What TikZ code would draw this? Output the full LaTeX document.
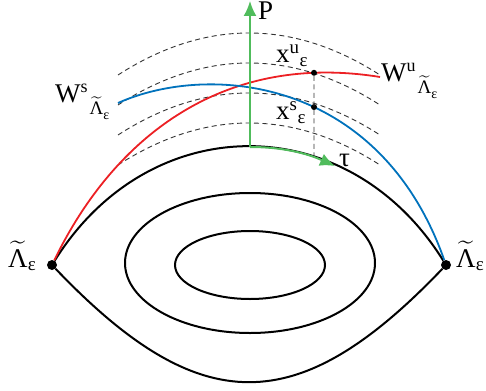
\documentclass[tikz,border=0pt]{standalone}
\usepackage{amsmath}
\usepackage{amssymb}
\usepackage{fontspec}
\setmainfont{Liberation Serif}
\usetikzlibrary{arrows.meta, intersections}
\definecolor{sepgreen}{RGB}{80,188,92}
\definecolor{mfred}{RGB}{236,32,36}
\definecolor{mfblue}{RGB}{0,114,188}
\tikzset{
    orbit/.style={draw=black, line width=2pt},
    levelset/.style={draw=black!80, line width=0.9pt, dash pattern=on 5pt off 3.5pt},
    unstable/.style={draw=mfred, line width=1.8pt},
    stable/.style={draw=mfblue, line width=1.8pt},
    flowarrow/.style={draw=sepgreen, line width=2pt, -{Latex[length=15pt,width=13pt]}},
    dot/.style={circle, fill=black, inner sep=0pt, minimum size=10pt},
    smalldot/.style={circle, fill=black, inner sep=0pt, minimum size=6pt},
    lbl/.style={inner sep=0pt, anchor=base west, font=\fontsize{27}{32}\selectfont}
}
% W with a superscript and the subscript tilde-Lambda_epsilon set after it
\newcommand{\manifold}[1]{W\raisebox{10pt}{\fontsize{18}{18}\selectfont #1}\hspace{2pt}%
    \raisebox{-12pt}{\fontsize{19}{19}\selectfont$\widetilde{\text{Λ}}$\raisebox{-5pt}{\fontsize{14}{14}\selectfont ε}}}

\begin{document}
\begin{tikzpicture}[x=1pt, y=-1pt]
    \useasboundingbox (0,0) rectangle (486,390);

    % level curves above the separatrix
    \foreach \d in {0,30,60,90}
        \draw[levelset] (118,75+\d) .. controls (205,19+\d) and (293,19+\d) .. (380,75+\d);

    % hyperbolic points, separatrix and periodic orbits
    \node[dot] (lamL) at (52,265) {};
    \node[dot] (lamR) at (446,265) {};
    \coordinate (top) at (250,147);
    \draw[orbit, name path=sep] (lamL) .. controls (150,108) and (348,108) .. (lamR);
    \draw[orbit] (lamL) .. controls (200,420) and (298,420) .. (lamR);
    \draw[orbit] (250,263) ellipse [x radius=125, y radius=70];
    \draw[orbit] (250,265) ellipse [x radius=75, y radius=34];

    % stable and unstable manifolds
    \coordinate (wuEnd) at (380,77);
    \coordinate (wsEnd) at (118,103);
    \draw[unstable, name path=wu] (lamL) .. controls (115,135) and (225,52) .. (wuEnd);
    \draw[stable, name path=ws] (wsEnd) .. controls (210,62) and (380,78) .. (lamR);

    % section through the two points
    \path[name path=cut] (314,0) -- (314,300);
    \path[name intersections={of=wu and cut, by=xu}];
    \path[name intersections={of=ws and cut, by=xs}];
    \path[name intersections={of=sep and cut, by=xb}];
    \node[smalldot] (ptU) at (xu) {};
    \node[smalldot] (ptS) at (xs) {};
    \draw[levelset] (ptU) -- (xb);

    % directions P and tau
    \coordinate (pTip) at (250,1);
    \coordinate (tauTip) at (335,166);
    \draw[flowarrow] (top) -- (pTip);
    \draw[flowarrow] (top) .. controls (282,147) and (306,153) .. (tauTip);

    % labels
    \node[lbl] (labP) at (258,20) {P};
    \node[lbl] (labXu) at (276,63) {$\text{x}^{\text{u}}{}_{\text{ε}}$};
    \node[lbl] (labXs) at (276,120) {$\text{x}^{\text{s}}{}_{\text{ε}}$};
    \node[lbl] (labTau) at (339,166) {τ};
    \node[lbl] (labWu) at (381,82) {\manifold{u}};
    \node[lbl] (labWs) at (55,103) {\manifold{s}};
    \node[lbl] (labL) at (8,267) {$\widetilde{\text{Λ}}_{\text{ε}}$};
    \node[lbl] (labR) at (456,267) {$\widetilde{\text{Λ}}_{\text{ε}}$};
\end{tikzpicture}
\end{document}
